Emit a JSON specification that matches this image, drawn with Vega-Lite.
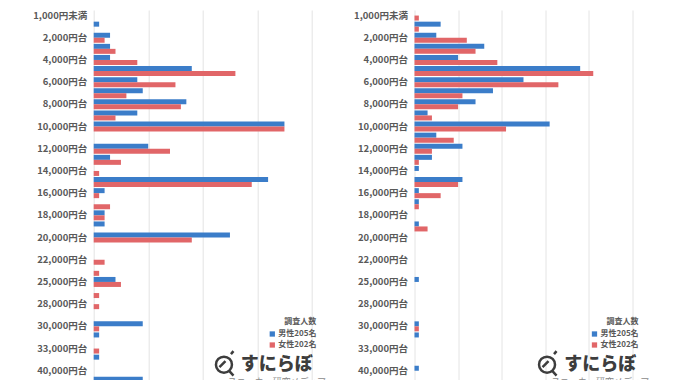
{
  "$schema": "https://vega.github.io/schema/vega-lite/v6.json",
  "autosize": {"type": "pad"},
  "padding": {"left": 31.7, "top": 10, "right": 0, "bottom": 0},
  "background": "white",
  "spacing": 25.8,
  "config": {
    "view": {"stroke": null},
    "font": "Noto Sans CJK JP",
    "axisY": {"labelFontSize": 9.5, "labelFontWeight": "bold", "labelColor": "#595959", "ticks": false, "domain": false, "grid": false, "labelPadding": 7, "title": null},
    "axisX": {"labels": false, "ticks": false, "domain": false, "grid": true, "gridColor": "#e4e4e4", "gridWidth": 1, "title": null},
    "legend": {"orient": "none", "titleFontSize": 8, "titleFontWeight": "bold", "titleColor": "#595959", "labelFontSize": 8, "labelFontWeight": "bold", "labelColor": "#595959", "symbolType": "square", "symbolSize": 28, "symbolStrokeWidth": 0, "titleAnchor": "end", "rowPadding": 3, "titlePadding": 4, "labelOffset": 2, "padding": 0}
  },
  "datasets": {
    "counts": [
      {"q": "A", "price": "1,000円台", "sex": "男性205名", "n": 1},
      {"q": "A", "price": "2,000円台", "sex": "男性205名", "n": 3},
      {"q": "A", "price": "3,000円台", "sex": "男性205名", "n": 3},
      {"q": "A", "price": "4,000円台", "sex": "男性205名", "n": 3},
      {"q": "A", "price": "5,000円台", "sex": "男性205名", "n": 18},
      {"q": "A", "price": "6,000円台", "sex": "男性205名", "n": 8},
      {"q": "A", "price": "7,000円台", "sex": "男性205名", "n": 9},
      {"q": "A", "price": "8,000円台", "sex": "男性205名", "n": 17},
      {"q": "A", "price": "9,000円台", "sex": "男性205名", "n": 8},
      {"q": "A", "price": "10,000円台", "sex": "男性205名", "n": 35},
      {"q": "A", "price": "12,000円台", "sex": "男性205名", "n": 10},
      {"q": "A", "price": "13,000円台", "sex": "男性205名", "n": 3},
      {"q": "A", "price": "15,000円台", "sex": "男性205名", "n": 32},
      {"q": "A", "price": "16,000円台", "sex": "男性205名", "n": 2},
      {"q": "A", "price": "18,000円台", "sex": "男性205名", "n": 2},
      {"q": "A", "price": "19,000円台", "sex": "男性205名", "n": 2},
      {"q": "A", "price": "20,000円台", "sex": "男性205名", "n": 25},
      {"q": "A", "price": "25,000円台", "sex": "男性205名", "n": 4},
      {"q": "A", "price": "30,000円台", "sex": "男性205名", "n": 9},
      {"q": "A", "price": "32,000円台", "sex": "男性205名", "n": 1},
      {"q": "A", "price": "35,000円台", "sex": "男性205名", "n": 1},
      {"q": "A", "price": "45,000円台", "sex": "男性205名", "n": 9},
      {"q": "A", "price": "2,000円台", "sex": "女性202名", "n": 2},
      {"q": "A", "price": "3,000円台", "sex": "女性202名", "n": 4},
      {"q": "A", "price": "4,000円台", "sex": "女性202名", "n": 8},
      {"q": "A", "price": "5,000円台", "sex": "女性202名", "n": 26},
      {"q": "A", "price": "6,000円台", "sex": "女性202名", "n": 15},
      {"q": "A", "price": "7,000円台", "sex": "女性202名", "n": 6},
      {"q": "A", "price": "8,000円台", "sex": "女性202名", "n": 16},
      {"q": "A", "price": "9,000円台", "sex": "女性202名", "n": 4},
      {"q": "A", "price": "10,000円台", "sex": "女性202名", "n": 35},
      {"q": "A", "price": "12,000円台", "sex": "女性202名", "n": 14},
      {"q": "A", "price": "13,000円台", "sex": "女性202名", "n": 5},
      {"q": "A", "price": "14,000円台", "sex": "女性202名", "n": 1},
      {"q": "A", "price": "15,000円台", "sex": "女性202名", "n": 29},
      {"q": "A", "price": "16,000円台", "sex": "女性202名", "n": 1},
      {"q": "A", "price": "17,000円台", "sex": "女性202名", "n": 3},
      {"q": "A", "price": "18,000円台", "sex": "女性202名", "n": 2},
      {"q": "A", "price": "20,000円台", "sex": "女性202名", "n": 18},
      {"q": "A", "price": "22,000円台", "sex": "女性202名", "n": 2},
      {"q": "A", "price": "24,000円台", "sex": "女性202名", "n": 1},
      {"q": "A", "price": "25,000円台", "sex": "女性202名", "n": 5},
      {"q": "A", "price": "26,000円台", "sex": "女性202名", "n": 1},
      {"q": "A", "price": "28,000円台", "sex": "女性202名", "n": 1},
      {"q": "A", "price": "30,000円台", "sex": "女性202名", "n": 1},
      {"q": "A", "price": "33,000円台", "sex": "女性202名", "n": 1},
      {"q": "B", "price": "1,000円台", "sex": "男性205名", "n": 6},
      {"q": "B", "price": "2,000円台", "sex": "男性205名", "n": 5},
      {"q": "B", "price": "3,000円台", "sex": "男性205名", "n": 16},
      {"q": "B", "price": "4,000円台", "sex": "男性205名", "n": 10},
      {"q": "B", "price": "5,000円台", "sex": "男性205名", "n": 38},
      {"q": "B", "price": "6,000円台", "sex": "男性205名", "n": 25},
      {"q": "B", "price": "7,000円台", "sex": "男性205名", "n": 18},
      {"q": "B", "price": "8,000円台", "sex": "男性205名", "n": 14},
      {"q": "B", "price": "9,000円台", "sex": "男性205名", "n": 3},
      {"q": "B", "price": "10,000円台", "sex": "男性205名", "n": 31},
      {"q": "B", "price": "11,000円台", "sex": "男性205名", "n": 5},
      {"q": "B", "price": "12,000円台", "sex": "男性205名", "n": 11},
      {"q": "B", "price": "13,000円台", "sex": "男性205名", "n": 4},
      {"q": "B", "price": "14,000円台", "sex": "男性205名", "n": 1},
      {"q": "B", "price": "15,000円台", "sex": "男性205名", "n": 11},
      {"q": "B", "price": "16,000円台", "sex": "男性205名", "n": 1},
      {"q": "B", "price": "17,000円台", "sex": "男性205名", "n": 1},
      {"q": "B", "price": "19,000円台", "sex": "男性205名", "n": 1},
      {"q": "B", "price": "25,000円台", "sex": "男性205名", "n": 1},
      {"q": "B", "price": "30,000円台", "sex": "男性205名", "n": 1},
      {"q": "B", "price": "32,000円台", "sex": "男性205名", "n": 1},
      {"q": "B", "price": "40,000円台", "sex": "男性205名", "n": 1},
      {"q": "B", "price": "1,000円未満", "sex": "女性202名", "n": 1},
      {"q": "B", "price": "1,000円台", "sex": "女性202名", "n": 1},
      {"q": "B", "price": "2,000円台", "sex": "女性202名", "n": 12},
      {"q": "B", "price": "3,000円台", "sex": "女性202名", "n": 14},
      {"q": "B", "price": "4,000円台", "sex": "女性202名", "n": 19},
      {"q": "B", "price": "5,000円台", "sex": "女性202名", "n": 41},
      {"q": "B", "price": "6,000円台", "sex": "女性202名", "n": 33},
      {"q": "B", "price": "7,000円台", "sex": "女性202名", "n": 11},
      {"q": "B", "price": "8,000円台", "sex": "女性202名", "n": 10},
      {"q": "B", "price": "9,000円台", "sex": "女性202名", "n": 4},
      {"q": "B", "price": "10,000円台", "sex": "女性202名", "n": 21},
      {"q": "B", "price": "11,000円台", "sex": "女性202名", "n": 9},
      {"q": "B", "price": "12,000円台", "sex": "女性202名", "n": 4},
      {"q": "B", "price": "13,000円台", "sex": "女性202名", "n": 1},
      {"q": "B", "price": "15,000円台", "sex": "女性202名", "n": 10},
      {"q": "B", "price": "16,000円台", "sex": "女性202名", "n": 6},
      {"q": "B", "price": "17,000円台", "sex": "女性202名", "n": 1},
      {"q": "B", "price": "19,000円台", "sex": "女性202名", "n": 3},
      {"q": "B", "price": "30,000円台", "sex": "女性202名", "n": 1}
    ],
    "logo": [{"name": "すにらぼ", "sub": "スニーカー研究メディア"}]
  },
  "resolve": {"scale": {"x": "independent", "color": "independent"}, "legend": {"color": "independent"}},
  "hconcat": [
    {
      "width": 218,
      "height": 388.5,
      "layer": [
        {
          "data": {"name": "counts"},
          "transform": [{"filter": "datum.q === 'A'"}],
          "mark": {"type": "bar"},
          "encoding": {
            "y": {"field": "price", "type": "nominal", "sort": null,
              "scale": {"domain": ["1,000円未満","1,000円台","2,000円台","3,000円台","4,000円台","5,000円台","6,000円台","7,000円台","8,000円台","9,000円台","10,000円台","11,000円台","12,000円台","13,000円台","14,000円台","15,000円台","16,000円台","17,000円台","18,000円台","19,000円台","20,000円台","21,000円台","22,000円台","24,000円台","25,000円台","26,000円台","28,000円台","29,000円台","30,000円台","32,000円台","33,000円台","35,000円台","40,000円台","45,000円台","50,000円以上"], "paddingInner": 0.1, "paddingOuter": 0.05},
              "axis": {"values": ["1,000円未満","2,000円台","4,000円台","6,000円台","8,000円台","10,000円台","12,000円台","14,000円台","16,000円台","18,000円台","20,000円台","22,000円台","25,000円台","28,000円台","30,000円台","33,000円台","40,000円台"]}},
            "yOffset": {"field": "sex", "type": "nominal", "sort": null, "scale": {"domain": ["男性205名","女性202名"], "paddingInner": 0, "paddingOuter": 0}},
            "x": {"field": "n", "type": "quantitative", "scale": {"domain": [0, 40]}, "axis": {"values": [0, 10, 20, 30, 40]}},
            "color": {"field": "sex", "type": "nominal", "sort": null, "scale": {"domain": ["男性205名","女性202名"], "range": ["#3b7dc9", "#e16668"]}, "legend": {"title": "調査人数", "legendX": 174.6, "legendY": 308}}
          }
        },
        {
          "data": {"name": "logo"},
          "mark": {"type": "point", "shape": "M0.8,0.5 A0.8,0.8 0 1,1 -0.8,0.5 A0.8,0.8 0 1,1 0.8,0.5 M0.5,1.1 L0.95,1.6 M-0.45,0.75 L0.15,0.15 M0.7,-0.55 L0.95,-0.85", "filled": false, "size": 400, "strokeWidth": 2.5, "color": "#3d3d3d", "opacity": 1},
          "encoding": {"x": {"datum": 23.9}, "y": {"datum": "35,000円台"}}
        },
        {
          "data": {"name": "logo"},
          "mark": {"type": "text", "fontSize": 18, "fontWeight": 900, "color": "#3d3d3d", "baseline": "middle", "align": "center", "dy": 5},
          "encoding": {"text": {"field": "name"}, "x": {"datum": 33.6}, "y": {"datum": "35,000円台"}}
        },
        {
          "data": {"name": "logo"},
          "mark": {"type": "text", "fontSize": 9, "color": "#8a8a8a", "baseline": "top", "align": "center", "dy": 7},
          "encoding": {"text": {"field": "sub"}, "x": {"datum": 33.6}, "y": {"datum": "40,000円台"}}
        }
      ]
    },
    {
      "width": 218,
      "height": 388.5,
      "layer": [
        {
          "data": {"name": "counts"},
          "transform": [{"filter": "datum.q === 'B'"}],
          "mark": {"type": "bar"},
          "encoding": {
            "y": {"field": "price", "type": "nominal", "sort": null,
              "scale": {"domain": ["1,000円未満","1,000円台","2,000円台","3,000円台","4,000円台","5,000円台","6,000円台","7,000円台","8,000円台","9,000円台","10,000円台","11,000円台","12,000円台","13,000円台","14,000円台","15,000円台","16,000円台","17,000円台","18,000円台","19,000円台","20,000円台","21,000円台","22,000円台","24,000円台","25,000円台","26,000円台","28,000円台","29,000円台","30,000円台","32,000円台","33,000円台","35,000円台","40,000円台","45,000円台","50,000円以上"], "paddingInner": 0.1, "paddingOuter": 0.05},
              "axis": {"values": ["1,000円未満","2,000円台","4,000円台","6,000円台","8,000円台","10,000円台","12,000円台","14,000円台","16,000円台","18,000円台","20,000円台","22,000円台","25,000円台","28,000円台","30,000円台","33,000円台","40,000円台"]}},
            "yOffset": {"field": "sex", "type": "nominal", "sort": null, "scale": {"domain": ["男性205名","女性202名"], "paddingInner": 0, "paddingOuter": 0}},
            "x": {"field": "n", "type": "quantitative", "scale": {"domain": [0, 50]}, "axis": {"values": [0, 10, 20, 30, 40, 50]}},
            "color": {"field": "sex", "type": "nominal", "sort": null, "scale": {"domain": ["男性205名","女性202名"], "range": ["#3b7dc9", "#e16668"]}, "legend": {"title": "調査人数", "legendX": 176, "legendY": 308}}
          }
        },
        {
          "data": {"name": "logo"},
          "mark": {"type": "point", "shape": "M0.8,0.5 A0.8,0.8 0 1,1 -0.8,0.5 A0.8,0.8 0 1,1 0.8,0.5 M0.5,1.1 L0.95,1.6 M-0.45,0.75 L0.15,0.15 M0.7,-0.55 L0.95,-0.85", "filled": false, "size": 400, "strokeWidth": 2.5, "color": "#3d3d3d", "opacity": 1},
          "encoding": {"x": {"datum": 30.4}, "y": {"datum": "35,000円台"}}
        },
        {
          "data": {"name": "logo"},
          "mark": {"type": "text", "fontSize": 18, "fontWeight": 900, "color": "#3d3d3d", "baseline": "middle", "align": "center", "dy": 5},
          "encoding": {"text": {"field": "name"}, "x": {"datum": 42.6}, "y": {"datum": "35,000円台"}}
        },
        {
          "data": {"name": "logo"},
          "mark": {"type": "text", "fontSize": 9, "color": "#8a8a8a", "baseline": "top", "align": "center", "dy": 7},
          "encoding": {"text": {"field": "sub"}, "x": {"datum": 42.6}, "y": {"datum": "40,000円台"}}
        }
      ]
    }
  ]
}
